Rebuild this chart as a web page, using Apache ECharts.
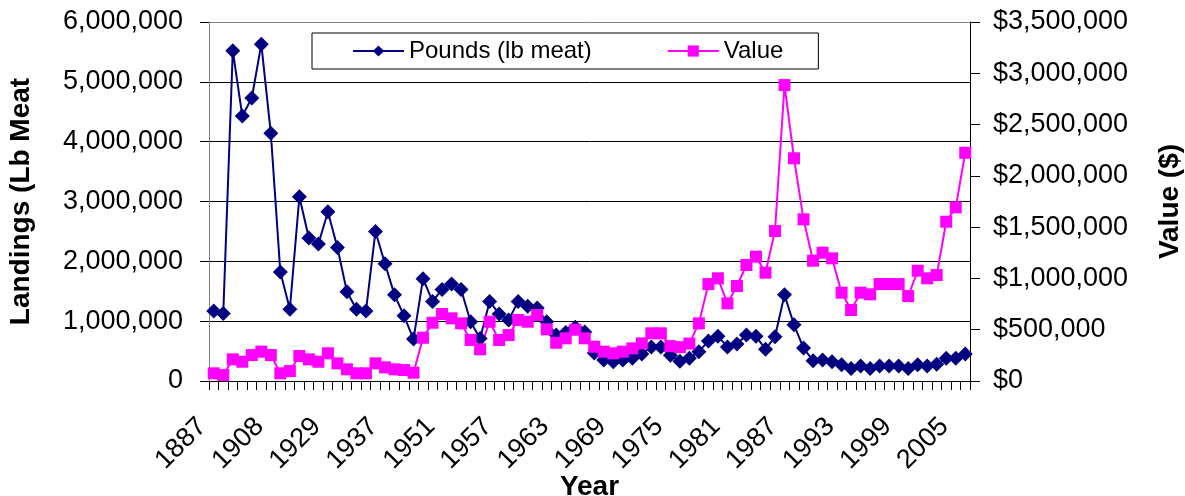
<!DOCTYPE html>
<html>
<head>
<meta charset="utf-8">
<script src="https://cdn.jsdelivr.net/npm/echarts@6/dist/echarts.min.js"></script>
<style>
  html, body { margin: 0; padding: 0; background: #fff; }
  #chart { width: 1185px; height: 496px; }
</style>
</head>
<body>
<div id="chart"></div>
<script>
// categories (only every 6th year is labelled on the axis)
var years = [
  "1887", "1888", "1889", "1897", "1901", "1904", "1908", "1918", "1919", "1921",
  "1923", "1926", "1929", "1930", "1931", "1932", "1934", "1935", "1937", "1938",
  "1939", "1940", "1945", "1950", "1951", "1952", "1953", "1954", "1955", "1956",
  "1957", "1958", "1959", "1960", "1961", "1962", "1963", "1964", "1965", "1966",
  "1967", "1968", "1969", "1970", "1971", "1972", "1973", "1974", "1975", "1976",
  "1977", "1978", "1979", "1980", "1981", "1982", "1983", "1984", "1985", "1986",
  "1987", "1988", "1989", "1990", "1991", "1992", "1993", "1994", "1995", "1996",
  "1997", "1998", "1999", "2000", "2001", "2002", "2003", "2004", "2005", "2006"
];

// landings, lb meat
var pounds = [
  1170000, 1130000, 5520000, 4430000, 4730000, 5630000, 4140000, 1820000, 1200000, 3080000,
  2390000, 2290000, 2830000, 2230000, 1490000, 1200000, 1170000, 2500000, 1960000, 1440000,
  1090000, 700000, 1710000, 1330000, 1530000, 1620000, 1530000, 990000, 710000, 1330000,
  1120000, 1020000, 1330000, 1250000, 1220000, 990000, 770000, 810000, 900000, 820000,
  470000, 350000, 320000, 350000, 380000, 450000, 570000, 570000, 430000, 330000,
  380000, 490000, 670000, 750000, 570000, 620000, 770000, 750000, 530000, 740000,
  1440000, 940000, 550000, 340000, 350000, 320000, 270000, 210000, 250000, 210000,
  250000, 250000, 250000, 210000, 270000, 250000, 280000, 380000, 380000, 450000
];

// value, dollars
var value = [
  75000, 58000, 211000, 188000, 253000, 286000, 253000, 75000, 97000, 244000,
  211000, 188000, 270000, 172000, 114000, 75000, 75000, 172000, 133000, 114000,
  107000, 81000, 422000, 568000, 653000, 611000, 562000, 400000, 309000, 578000,
  400000, 448000, 595000, 578000, 643000, 504000, 373000, 416000, 500000, 416000,
  334000, 286000, 270000, 286000, 318000, 367000, 465000, 465000, 340000, 330000,
  365000, 562000, 945000, 1001000, 757000, 926000, 1131000, 1212000, 1056000, 1462000,
  2885000, 2171000, 1576000, 1173000, 1251000, 1196000, 861000, 692000, 861000, 845000,
  945000, 945000, 945000, 828000, 1075000, 1001000, 1033000, 1553000, 1693000, 2225000
];

var font = "'Liberation Sans', Arial, sans-serif";

function commas(v) {
  return String(v).replace(/\B(?=(\d{3})+(?!\d))/g, ",");
}

var myChart = echarts.init(document.getElementById("chart"));

myChart.setOption({
  animation: false,
  textStyle: { fontFamily: font, color: "#000" },
  grid: { left: 209, right: 215, top: 22, bottom: 115, outerBoundsMode: "none", containLabel: false },
  legend: {
    left: 312,
    top: 33,
    padding: [6, 35, 6, 40],
    itemGap: 75,
    itemWidth: 51,
    itemHeight: 14,
    borderColor: "#000",
    borderWidth: 1,
    backgroundColor: "#fff",
    textStyle: { fontFamily: font, fontSize: 24, color: "#000" },
    data: ["Pounds (lb meat)", "Value"]
  },
  xAxis: {
    type: "category",
    data: years,
    boundaryGap: true,
    name: "Year",
    nameLocation: "middle",
    nameGap: 92,
    nameMoveOverlap: false,
    nameTextStyle: { fontFamily: font, fontSize: 28, fontWeight: "bold", color: "#000" },
    axisLine: { lineStyle: { color: "#000", width: 1 } },
    axisTick: { show: true, interval: 0, length: 9, lineStyle: { color: "#000" } },
    axisLabel: {
      interval: 5,
      rotate: 45,
      margin: 30,
      padding: [0, 16, 0, 0],
      fontFamily: font,
      fontSize: 27,
      color: "#000"
    }
  },
  yAxis: [
    {
      type: "value",
      min: 0,
      max: 6000000,
      interval: 1000000,
      name: "Landings (Lb Meat",
      nameLocation: "middle",
      nameRotate: 90,
      nameGap: 174,
      nameMoveOverlap: false,
      nameTextStyle: { fontFamily: font, fontSize: 28, fontWeight: "bold", color: "#000" },
      axisLine: { show: true, lineStyle: { color: "#808080", width: 1 } },
      axisTick: { show: true, length: 9, lineStyle: { color: "#000" } },
      axisLabel: {
        margin: 26,
        fontFamily: font,
        fontSize: 27,
        color: "#000",
        formatter: function (v) { return commas(v); }
      },
      splitLine: {
        show: true,
        lineStyle: { color: ["#000", "#000", "#000", "#000", "#000", "#000", "#808080"], width: 1 }
      }
    },
    {
      type: "value",
      min: 0,
      max: 3500000,
      interval: 500000,
      position: "right",
      name: "Value ($)",
      nameLocation: "middle",
      nameRotate: 90,
      nameGap: 186,
      nameMoveOverlap: false,
      nameTextStyle: { fontFamily: font, fontSize: 28, fontWeight: "bold", color: "#000" },
      axisLine: { show: true, lineStyle: { color: "#000", width: 1 } },
      axisTick: { show: true, length: 10, lineStyle: { color: "#000" } },
      axisLabel: {
        margin: 23,
        fontFamily: font,
        fontSize: 27,
        color: "#000",
        formatter: function (v) { return "$" + commas(v); }
      },
      splitLine: { show: false }
    }
  ],
  series: [
    {
      name: "Pounds (lb meat)",
      type: "line",
      yAxisIndex: 0,
      data: pounds,
      symbol: "diamond",
      symbolSize: 15,
      showAllSymbol: true,
      itemStyle: { color: "#000080" },
      lineStyle: { color: "#000080", width: 2 }
    },
    {
      name: "Value",
      type: "line",
      yAxisIndex: 1,
      data: value,
      symbol: "rect",
      symbolSize: 12,
      showAllSymbol: true,
      itemStyle: { color: "#ff00ff" },
      lineStyle: { color: "#ff00ff", width: 2 }
    }
  ]
});
</script>
</body>
</html>
